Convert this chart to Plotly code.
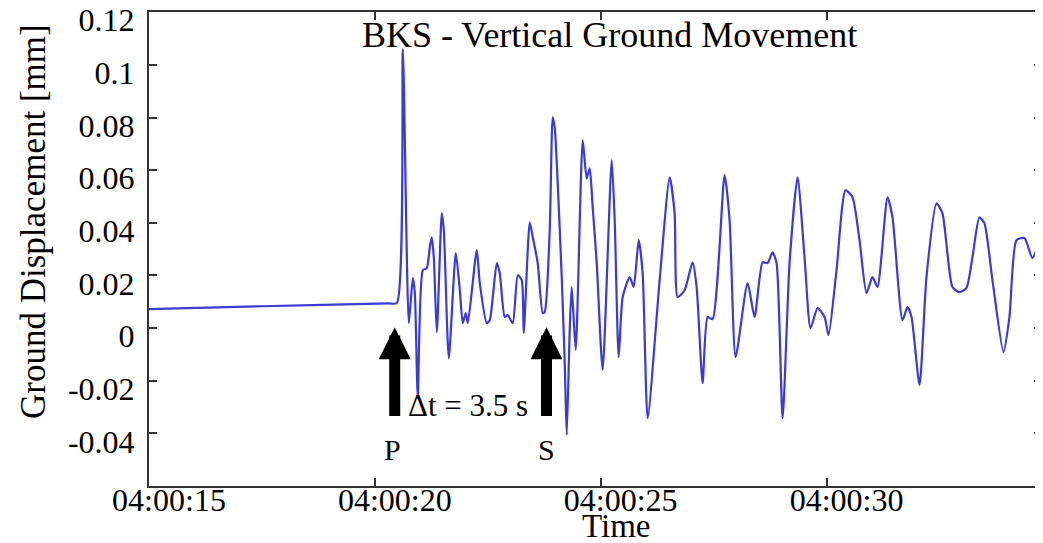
import plotly.graph_objects as go

# --- data (time in seconds after 04:00:00, displacement in mm)
time_s = [15.000, 17.500, 20.300, 20.487, 20.619, 20.752, 20.841, 20.885, 20.951, 21.062, 21.150, 21.217,
          21.261, 21.305, 21.372, 21.482, 21.527, 21.637, 21.792, 21.881, 21.947, 22.013,
          22.058, 22.257, 22.323, 22.478, 22.544, 22.699, 22.765, 22.876, 22.942, 23.053,
          23.164, 23.252, 23.296, 23.429, 23.496, 23.606, 23.717, 23.761, 23.872, 23.938,
          23.982, 24.049, 24.137, 24.204, 24.248, 24.314, 24.358, 24.447, 24.602, 24.690,
          24.757, 24.823, 24.912, 25.044, 25.243, 25.310, 25.398, 25.487, 25.642, 25.730,
          25.841, 25.929, 26.040, 26.305, 26.527, 26.637, 26.704, 26.858, 27.035, 27.124,
          27.257, 27.367, 27.478, 27.743, 27.854, 27.987, 28.252, 28.407, 28.584, 28.695,
          28.805, 28.894, 29.027, 29.181, 29.358, 29.513, 29.646, 29.801, 29.956, 30.044,
          30.221, 30.420, 30.575, 30.730, 30.885, 31.018, 31.128, 31.350, 31.460, 31.681,
          31.792, 31.881, 32.058, 32.212, 32.434, 32.566, 32.788, 32.942, 33.097, 33.230,
          33.385, 33.496, 33.673, 33.916, 34.049, 34.204, 34.381, 34.558, 34.757, 34.890]
disp_mm = [0.0072, 0.0083, 0.0094, 0.0095, 0.1060, 0.0019, 0.0190, 0.0133, -0.0262, 0.0220, 0.0228, 0.0307,
           0.0345, 0.0269, -0.0015, 0.0436, 0.0372, -0.0114, 0.0285, 0.0144, 0.0019, 0.0057,
           0.0019, 0.0296, 0.0171, 0.0019, 0.0030, 0.0247, 0.0209, 0.0042, 0.0049, 0.0019,
           0.0201, 0.0182, -0.0019, 0.0402, 0.0345, 0.0247, 0.0057, 0.0061, 0.0372, 0.0801,
           0.0763, 0.0550, 0.0194, -0.0133, -0.0406, -0.0008, 0.0156, -0.0083, 0.0713, 0.0569,
           0.0607, 0.0459, 0.0247, -0.0159, 0.0638, 0.0410, -0.0110, 0.0118, 0.0194, 0.0156,
           0.0334, 0.0209, -0.0342, 0.0182, 0.0573, 0.0436, 0.0118, 0.0144, 0.0250, 0.0156,
           -0.0209, 0.0042, 0.0034, 0.0581, 0.0410, -0.0110, 0.0171, 0.0042, 0.0250, 0.0247,
           0.0288, 0.0247, -0.0342, 0.0247, 0.0573, 0.0269, 0.0000, 0.0076, 0.0042, -0.0027,
           0.0220, 0.0524, 0.0497, 0.0334, 0.0133, 0.0194, 0.0156, 0.0497, 0.0421, 0.0030,
           0.0080, 0.0042, -0.0216, 0.0194, 0.0474, 0.0436, 0.0156, 0.0137, 0.0152, 0.0269,
           0.0421, 0.0398, 0.0182, -0.0091, 0.0042, 0.0334, 0.0342, 0.0266, 0.0345, 0.0380]

x_tick_vals = [15, 20, 25, 30]
x_tick_text = ["04:00:15", "04:00:20", "04:00:25", "04:00:30"]
y_tick_vals = [0.12, 0.10, 0.08, 0.06, 0.04, 0.02, 0.0, -0.02, -0.04]
y_tick_text = ["0.12", "0.1", "0.08", "0.06", "0.04", "0.02", "0", "-0.02", "-0.04"]

# arrival markers
p_time, s_time = 20.44, 23.80
arrow_tip_y, arrow_tail_y = 0.0003, -0.034
label_y = -0.046

SERIF = "Liberation Serif"

fig = go.Figure()
fig.add_trace(go.Scatter(
    x=time_s, y=disp_mm, mode="lines",
    line=dict(color="#3a3ad6", width=2.2, shape="spline", smoothing=0.6),
    showlegend=False, hoverinfo="skip"))

axis_common = dict(
    showline=True, linecolor="#333333", linewidth=2, mirror="ticks",
    ticks="inside", ticklen=8, tickwidth=1.5, tickcolor="#333333",
    showgrid=False, zeroline=False, automargin=False, ticklabeloverflow="allow",
    tickfont=dict(family=SERIF, size=32, color="black"))

fig.update_xaxes(range=[15, 34.77], tickvals=x_tick_vals, ticktext=x_tick_text,
                 ticklabelshift=20, ticklabelstandoff=-15, **axis_common)
fig.update_yaxes(range=[-0.06, 0.1201], tickvals=y_tick_vals, ticktext=y_tick_text,
                 ticklabelshift=8, ticklabelstandoff=6, **axis_common)

annotations = []
for t in (p_time, s_time):
    annotations.append(dict(x=t, y=arrow_tip_y, ax=t, ay=arrow_tail_y,
                            xref="x", yref="y", axref="x", ayref="y",
                            text="", showarrow=True, arrowhead=2, arrowwidth=11,
                            arrowsize=0.58, arrowcolor="black", standoff=0))
annotations.append(dict(x=p_time - 0.04, y=label_y, xref="x", yref="y", text="P",
                        showarrow=False, font=dict(family=SERIF, size=30, color="black")))
annotations.append(dict(x=s_time, y=label_y, xref="x", yref="y", text="S",
                        showarrow=False, font=dict(family=SERIF, size=30, color="black")))
annotations.append(dict(x=22.06, y=-0.0295, xref="x", yref="y", text="Δt = 3.5 s",
                        showarrow=False, font=dict(family=SERIF, size=31, color="black")))
annotations.append(dict(x=0.5157, y=0.952, xref="paper", yref="paper",
                        text="BKS - Vertical Ground Movement", showarrow=False,
                        xanchor="center", yanchor="middle",
                        font=dict(family=SERIF, size=36, color="black")))
annotations.append(dict(x=0.523, y=-0.1275, xref="paper", yref="paper", text="Time",
                        showarrow=False, xanchor="center", yanchor="bottom",
                        font=dict(family=SERIF, size=33, color="black")))
annotations.append(dict(x=-0.13, y=0.559, xref="paper", yref="paper",
                        text="Ground Displacement [mm]", textangle=-90, showarrow=False,
                        xanchor="center", yanchor="middle",
                        font=dict(family=SERIF, size=35, color="black")))

# page body has an 8px default margin, so the figure is sized/offset to compensate
fig.update_layout(width=1035, height=535,
                  margin=dict(l=141, r=1, t=4, b=57),
                  paper_bgcolor="white", plot_bgcolor="white",
                  annotations=annotations)

fig.write_html("out.html")
